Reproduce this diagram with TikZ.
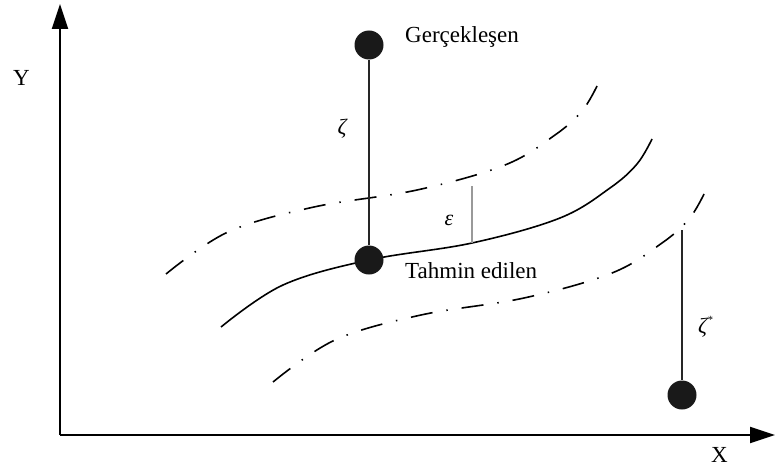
\documentclass[tikz,border=0pt]{standalone}
\usepackage{fontspec}
\setmainfont{Liberation Serif}
\usetikzlibrary{arrows.meta}
\begin{document}
\begin{tikzpicture}[x=1pt,y=-1pt,
  axis/.style={line width=2pt,-{Triangle[length=25pt,width=16pt]}},
  curve/.style={line width=1.6pt},
  dashdot/.style={line width=1.6pt,dash pattern=on 22pt off 14pt on 1.5pt off 14pt},
  dot/.style={circle,fill=black!90,inner sep=0pt,minimum size=29pt},
  lbl/.style={font=\fontsize{23}{27}\selectfont,inner sep=0pt},
  greek/.style={font=\fontsize{22}{26}\selectfont\itshape,inner sep=0pt},
  stem/.style={line width=1.4pt,black!85},
  gstem/.style={line width=1.4pt,black!40}]
\useasboundingbox (0,0) rectangle (775,468);
% axes
\coordinate (o) at (60,435);
\coordinate (ytip) at (60,4);
\coordinate (xtip) at (775,435);
\draw[axis] (o) -- (ytip);
\draw[axis] (o) -- (xtip);
\node[lbl,anchor=base west] (ylab) at (13,85) {Y};
\node[lbl,anchor=base west] (xlab) at (711,462) {X};
% curves
\def\mycurve{plot[smooth,tension=0.6] coordinates {(221,327) (283,285) (369,260) (472,243) (560,218) (610,188) (637,164) (652,139)}}
\draw[curve] \mycurve;
\begin{scope}[shift={(-55,-53)}]
\draw[dashdot] \mycurve;
\end{scope}
\begin{scope}[shift={(52,55)}]
\draw[dashdot] \mycurve;
\end{scope}
% points
\node[dot] (real) at (369,45) {};
\node[dot] (pred) at (369,260) {};
\node[dot] (real2) at (682,395) {};
\coordinate (top2) at (682,230);
\coordinate (etop) at (472,186);
\coordinate (ebot) at (472,243);
\draw[stem] (real) -- (pred);
\draw[stem] (top2) -- (real2);
\draw[gstem] (etop) -- (ebot);
% labels
\node[lbl,anchor=base west] (lreal) at (405,43) {Gerçekleşen};
\node[lbl,anchor=base west] (lpred) at (405,278) {Tahmin edilen};
\node[greek] (zeta) at (342,129) {ζ};
\node[greek] (eps) at (449,220) {ε};
\node[greek,anchor=west] (zeta2) at (698,327) {ζ\raisebox{0.45em}{\fontsize{11}{12}\selectfont *}};
\end{tikzpicture}
\end{document}
